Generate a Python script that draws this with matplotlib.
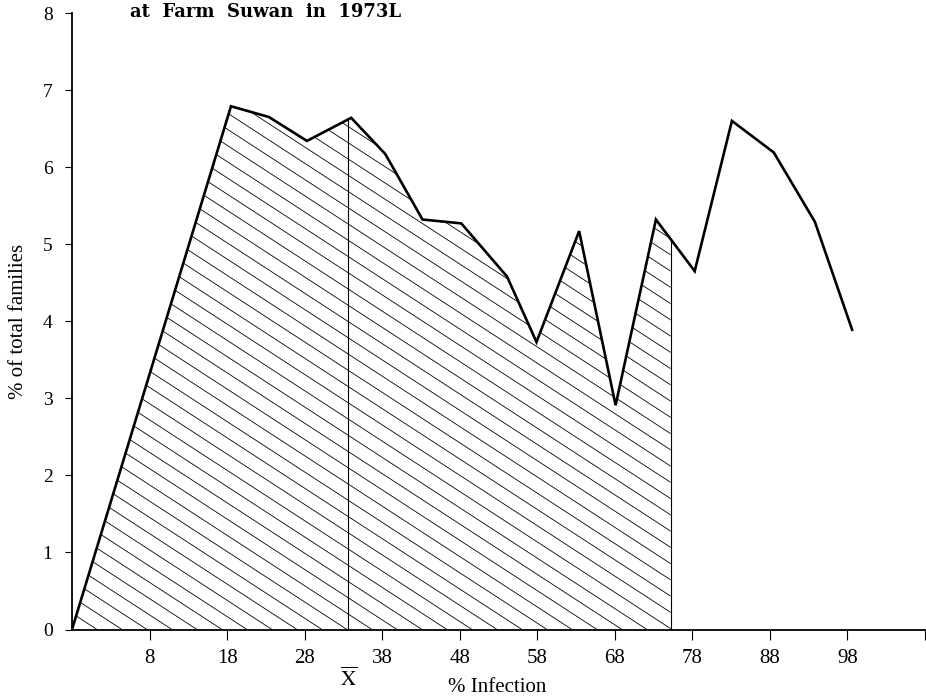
import numpy as np
import matplotlib.pyplot as plt
from matplotlib.collections import LineCollection

# values
infection = [-2, 18.5, 23.4, 28.3, 34.0, 38.4, 43.2, 48.2, 54.1, 57.9,
             63.4, 68.1, 73.3, 78.3, 83.1, 88.5, 93.8, 98.6]
families = [0, 6.79, 6.65, 6.34, 6.64, 6.17, 5.32, 5.27, 4.58, 3.73,
            5.17, 2.91, 5.32, 4.65, 6.60, 6.19, 5.29, 3.89]
mean_x = 33.6
shade_end = 75.2
xticks = [8, 18, 28, 38, 48, 58, 68, 78, 88, 98, 108]
xticklabels = ['8', '18', '28', '38', '48', '58', '68', '78', '88', '98', '']
yticks = [0, 1, 2, 3, 4, 5, 6, 7, 8]

plt.rcParams['font.family'] = ['Liberation Serif', 'DejaVu Serif']
plt.rcParams['mathtext.fontset'] = 'stix'

fig = plt.figure(figsize=(9.26, 6.98), dpi=100)
ax = fig.add_axes([72 / 926, 1 - 629.5 / 698, 853 / 926, (629.5 - 13) / 698])
ax.set_xlim(-2, 108)
ax.set_ylim(0, 8)

# shaded part under the curve (up to shade_end)
xs = np.array(infection, dtype=float)
ys = np.array(families, dtype=float)
y_end = np.interp(shade_end, xs, ys)
keep = xs < shade_end
px = np.concatenate([xs[keep], [shade_end]])
py = np.concatenate([ys[keep], [y_end]])
poly = ax.fill_between(px, 0, py, facecolor='none', edgecolor='none')

# hatch lines, sloping down to the right
slope = -0.65 * (853 / 110) / (616.5 / 8)
step = 25 * 110 / 853
segs = []
for c in np.arange(-2, 160, step):
    segs.append([(c - 160, -slope * 160), (c, 0)])
hatch = LineCollection(segs, colors='black', linewidths=0.6)
ax.add_collection(hatch)
hatch.set_clip_path(poly.get_paths()[0], ax.transData)

ax.plot(xs, ys, color='black', lw=1.9, solid_joinstyle='miter')
ax.plot([shade_end, shade_end], [0, y_end], color='black', lw=0.8)
ax.plot([mean_x, mean_x], [0, np.interp(mean_x, xs, ys)], color='black', lw=0.8)

for s in ['top', 'right']:
    ax.spines[s].set_visible(False)
ax.spines['left'].set_linewidth(1.3)
ax.spines['bottom'].set_linewidth(1.3)

ax.set_xticks(xticks)
ax.set_xticklabels(xticklabels)
ax.set_yticks(yticks)
ax.tick_params(axis='x', length=7, width=0.8, pad=7, labelsize=15)
ax.tick_params(axis='y', length=5, width=0.8, pad=9, labelsize=14)

ax.set_ylabel('% of total families', fontsize=15)
ax.yaxis.set_label_coords(-0.052, 0.5)
fig.text(497 / 926, 1 - 687 / 698, '% Infection', fontsize=15, ha='center', va='center')
ax.text(mean_x, -0.65, r'$\overline{\mathrm{X}}$', fontsize=15,
        ha='center', va='center', transform=ax.transData, clip_on=False)

fig.text(130 / 926, 1 - 12 / 698, 'at  Farm  Suwan  in  1973L', fontsize=13,
         family='DejaVu Serif', fontweight='bold', ha='left', va='center')

fig.savefig('out.png', dpi=100)
